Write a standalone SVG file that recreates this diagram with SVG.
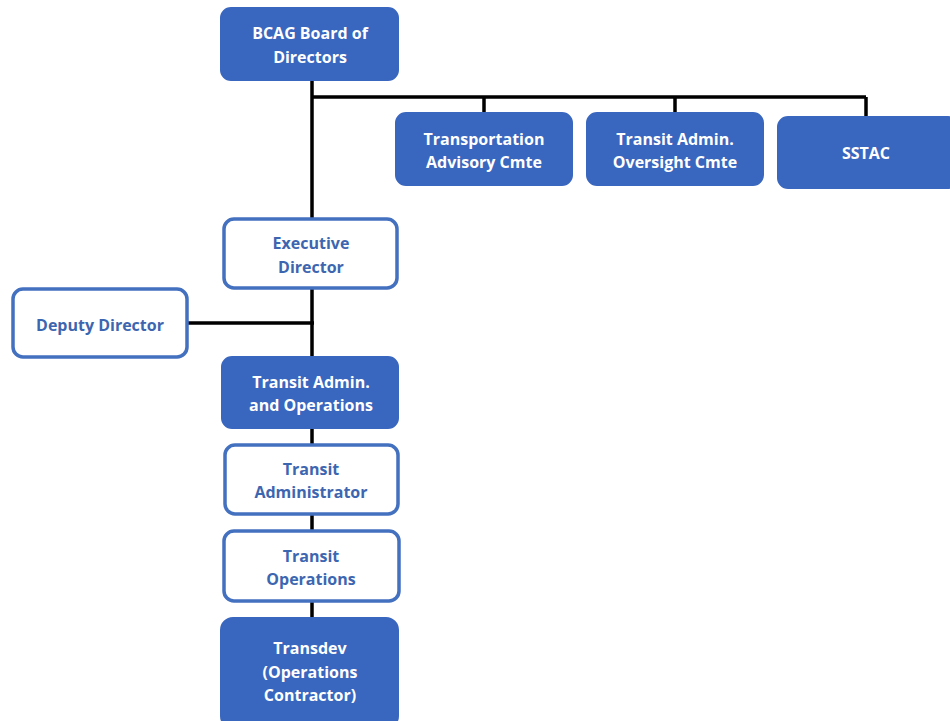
<svg xmlns="http://www.w3.org/2000/svg" width="950" height="721" viewBox="0 0 950 721">
<style>
.f{fill:#3966BE;stroke:#3966BE;stroke-width:2}
.w{fill:#fff;stroke:#4470C0;stroke-width:3.5}
.tw{fill:#fff;font-family:"Open Sans","Liberation Sans",sans-serif;font-weight:bold;font-size:16px;text-anchor:middle}
.tb{fill:#3D66B0;font-family:"Open Sans","Liberation Sans",sans-serif;font-weight:bold;font-size:16px;text-anchor:middle}
.c{stroke:#000;stroke-width:3.5;fill:none}
</style>
<rect width="950" height="721" fill="#fff"/>
<g id="connectors">
<path class="c" d="M312 80V357M312 97H866M484 97V113M675 97V113M866 97V117M188 323H314M312 429V445M312 515V531M312 602V618"/>
</g>
<g id="board"><rect class="f" x="221" y="8" width="177" height="72" rx="10"/><text class="tw" x="310" y="39">BCAG Board of</text><text class="tw" x="310" y="63">Directors</text></g>
<g id="tac"><rect class="f" x="396" y="113" width="176" height="72" rx="10"/><text class="tw" x="484" y="145">Transportation</text><text class="tw" x="484" y="168">Advisory Cmte</text></g>
<g id="taoc"><rect class="f" x="587" y="113" width="176" height="72" rx="10"/><text class="tw" x="675" y="145">Transit Admin.</text><text class="tw" x="675" y="168">Oversight Cmte</text></g>
<g id="sstac"><rect class="f" x="778" y="117" width="180" height="71" rx="10"/><text class="tw" x="866" y="159">SSTAC</text></g>
<g id="exec"><rect class="w" x="224" y="219" width="173" height="69" rx="10"/><text class="tb" x="311" y="249">Executive</text><text class="tb" x="311" y="273">Director</text></g>
<g id="deputy"><rect class="w" x="13" y="289" width="174" height="68" rx="10"/><text class="tb" x="100" y="331">Deputy Director</text></g>
<g id="tao"><rect class="f" x="222" y="357" width="176" height="71" rx="10"/><text class="tw" x="311" y="388">Transit Admin.</text><text class="tw" x="311" y="411">and Operations</text></g>
<g id="tadm"><rect class="w" x="225" y="445" width="173" height="69" rx="10"/><text class="tb" x="311" y="475">Transit</text><text class="tb" x="311" y="498">Administrator</text></g>
<g id="tops"><rect class="w" x="224" y="531" width="175" height="70" rx="10"/><text class="tb" x="311" y="562">Transit</text><text class="tb" x="311" y="585">Operations</text></g>
<g id="transdev"><rect class="f" x="221" y="618" width="177" height="110" rx="12"/><text class="tw" x="310" y="654">Transdev</text><text class="tw" x="310" y="678">(Operations</text><text class="tw" x="310" y="701">Contractor)</text></g>
</svg>
